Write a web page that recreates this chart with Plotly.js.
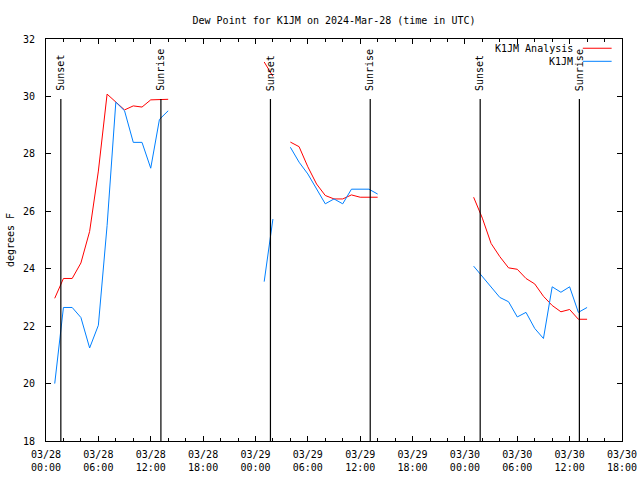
<!DOCTYPE html>
<html>
<head>
<meta charset="utf-8">
<script src="https://cdn.plot.ly/plotly-3.0.1.min.js"></script>
<style>html,body{margin:0;padding:0;background:#fff}#chart{width:640px;height:480px}</style>
</head>
<body>
<div id="chart"></div>
<script>
// Hourly times (UTC)
const times = [
  "2024-03-28 01:00","2024-03-28 02:00","2024-03-28 03:00","2024-03-28 04:00","2024-03-28 05:00","2024-03-28 06:00","2024-03-28 07:00",
  "2024-03-28 08:00","2024-03-28 09:00","2024-03-28 10:00","2024-03-28 11:00","2024-03-28 12:00","2024-03-28 13:00","2024-03-28 14:00",
  "2024-03-28 15:00",
  "2024-03-29 01:00","2024-03-29 02:00","2024-03-29 03:00","2024-03-29 04:00","2024-03-29 05:00","2024-03-29 06:00","2024-03-29 07:00",
  "2024-03-29 08:00","2024-03-29 09:00","2024-03-29 10:00","2024-03-29 11:00","2024-03-29 12:00","2024-03-29 13:00","2024-03-29 14:00",
  "2024-03-29 15:00",
  "2024-03-30 01:00","2024-03-30 02:00","2024-03-30 03:00","2024-03-30 04:00","2024-03-30 05:00","2024-03-30 06:00","2024-03-30 07:00",
  "2024-03-30 08:00","2024-03-30 09:00","2024-03-30 10:00","2024-03-30 11:00","2024-03-30 12:00","2024-03-30 13:00","2024-03-30 14:00"
];
const analysis = [
  22.97,23.66,23.66,24.2,25.3,27.4,30.08,29.82,29.53,29.67,29.63,29.88,29.9,29.9,
  null,
  31.2,30.7,null,28.41,28.25,27.55,26.95,26.55,26.43,26.43,26.57,26.49,26.49,26.49,
  null,
  26.49,25.76,24.88,24.42,24.03,23.98,23.66,23.47,23.04,22.72,22.5,22.58,22.24,22.24
];
const station = [
  20.0,22.65,22.65,22.3,21.24,22.03,25.5,29.8,29.5,28.4,28.4,27.5,29.2,29.5,
  null,
  23.55,25.73,null,28.23,27.71,27.3,26.8,26.26,26.43,26.26,26.77,26.77,26.77,26.6,
  null,
  24.09,23.72,23.35,23.0,22.85,22.32,22.48,21.92,21.57,23.37,23.18,23.37,22.48,22.65
];
const seriesNames = ["K1JM Analysis","K1JM"];
const sunsets = ["2024-03-28 01:42","2024-03-29 01:43","2024-03-30 01:45"];
const sunrises = ["2024-03-28 13:10","2024-03-29 13:09","2024-03-30 13:07"];
const tickVals = ["2024-03-28 00:00","2024-03-28 06:00","2024-03-28 12:00","2024-03-28 18:00",
  "2024-03-29 00:00","2024-03-29 06:00","2024-03-29 12:00","2024-03-29 18:00",
  "2024-03-30 00:00","2024-03-30 06:00","2024-03-30 12:00","2024-03-30 18:00"];
const tickText = ["03/28<br>00:00","03/28<br>06:00","03/28<br>12:00","03/28<br>18:00",
  "03/29<br>00:00","03/29<br>06:00","03/29<br>12:00","03/29<br>18:00",
  "03/30<br>00:00","03/30<br>06:00","03/30<br>12:00","03/30<br>18:00"];
const yTicks = [18,20,22,24,26,28,30,32];

const FONT = "DejaVu Sans Mono, monospace";
const colors = ["#ff0000","#0080ff"];

const traces = [
  {x: times, y: analysis, name: seriesNames[0], type: "scatter", mode: "lines",
   line: {color: colors[0], width: 1}, connectgaps: false},
  {x: times, y: station, name: seriesNames[1], type: "scatter", mode: "lines",
   line: {color: colors[1], width: 1}, connectgaps: false}
];

const shapes = [];
const annotations = [];
sunsets.concat(sunrises).forEach((t, i) => {
  shapes.push({type: "line", xref: "x", yref: "paper", x0: t, x1: t, y0: 0, y1: 0.851,
    line: {color: "#000", width: 1.2}});
  annotations.push({xref: "x", yref: "paper", x: t, y: 0.866, yanchor: "bottom", xanchor: "center",
    text: i < sunsets.length ? "Sunset" : "Sunrise", textangle: -90, showarrow: false,
    font: {family: FONT, size: 10, color: "#000"}});
});
// legend (gnuplot style: text then line sample)
seriesNames.forEach((n, i) => {
  const yp = 0.977 - i * 0.0325;
  annotations.push({xref: "paper", yref: "paper", x: 0.918, y: yp, xanchor: "right", yanchor: "middle",
    text: n, showarrow: false, font: {family: FONT, size: 10, color: "#000"}});
  shapes.push({type: "line", xref: "paper", yref: "paper", x0: 0.932, x1: 0.982, y0: yp, y1: yp,
    line: {color: colors[i], width: 1}});
});

const layout = {
  width: 640, height: 480,
  margin: {l: 46, r: 18, t: 39, b: 39},
  paper_bgcolor: "#fff", plot_bgcolor: "#fff",
  showlegend: false,
  font: {family: FONT, size: 10, color: "#000"},
  title: {text: "Dew Point for K1JM on 2024-Mar-28 (time in UTC)", xref: "paper", x: 0.5, xanchor: "center",
    yref: "container", y: 0.958, yanchor: "middle", font: {family: FONT, size: 10, color: "#000"}},
  xaxis: {type: "date", range: ["2024-03-28 00:00","2024-03-30 18:00"],
    tickmode: "array", tickvals: tickVals, ticktext: tickText,
    ticks: "inside", ticklen: 5, tickcolor: "#000", tickwidth: 1,
    minor: {dtick: 7200000, tick0: "2024-03-28 00:00", ticks: "inside", ticklen: 3, tickcolor: "#000", showgrid: false},
    showline: true, linecolor: "#000", linewidth: 1, mirror: "ticks",
    showgrid: false, zeroline: false, ticklabelstandoff: 4,
    tickfont: {family: FONT, size: 10, color: "#000"}},
  yaxis: {range: [18, 32], tickvals: yTicks, tickmode: "array",
    ticks: "inside", ticklen: 5, tickcolor: "#000",
    showline: true, linecolor: "#000", linewidth: 1, mirror: "ticks",
    showgrid: false, zeroline: false, ticklabelstandoff: 8,
    tickfont: {family: FONT, size: 10, color: "#000"},
    title: {text: "degrees F", standoff: 6, font: {family: FONT, size: 10, color: "#000"}}},
  shapes: shapes,
  annotations: annotations
};

Plotly.newPlot("chart", traces, layout, {displayModeBar: false, staticPlot: true});
</script>
</body>
</html>
